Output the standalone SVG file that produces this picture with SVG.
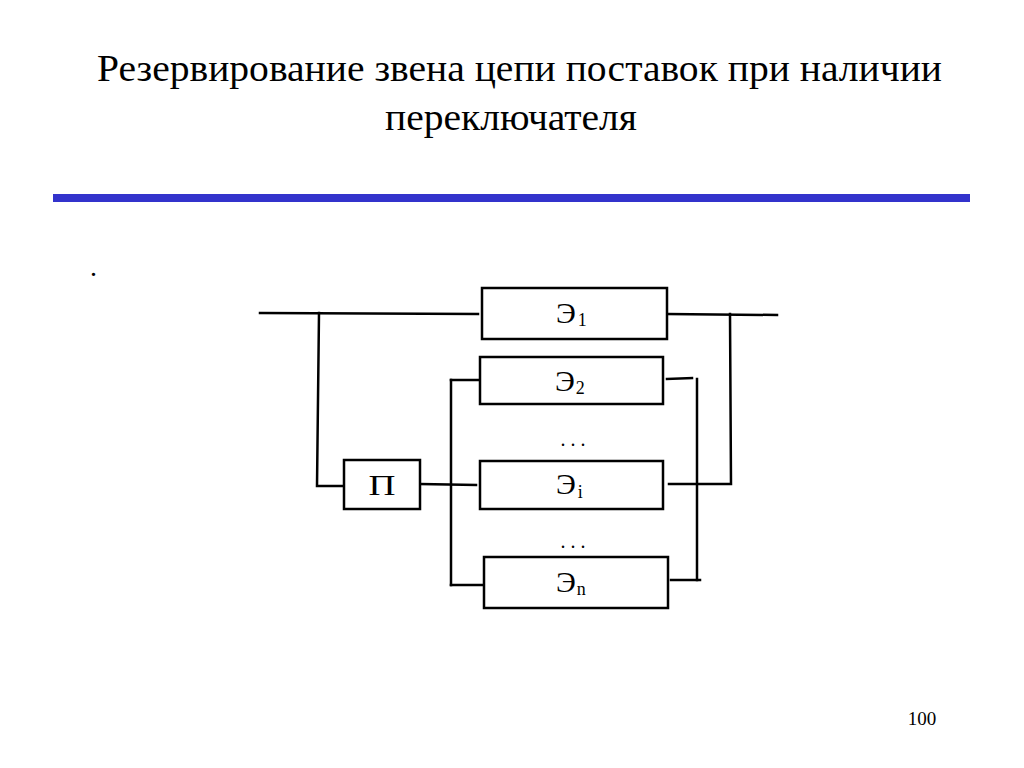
<svg xmlns="http://www.w3.org/2000/svg" width="1024" height="768" viewBox="0 0 1024 768">
<rect width="1024" height="768" fill="#fff"/>
<text x="97" y="81" font-size="38" font-family="Liberation Serif" textLength="845" lengthAdjust="spacingAndGlyphs">Резервирование звена цепи поставок при наличии</text>
<text x="385" y="130" font-size="38" font-family="Liberation Serif" textLength="252" lengthAdjust="spacingAndGlyphs">переключателя</text>
<text x="90" y="276" font-size="28" font-family="Liberation Serif">.</text>
<text x="922" y="725" font-size="19" font-family="Liberation Serif" text-anchor="middle">100</text>
<text x="573" y="446" font-size="20" font-family="Liberation Serif" text-anchor="middle">. . .</text>
<text x="573" y="548" font-size="20" font-family="Liberation Serif" text-anchor="middle">. . .</text>
<rect x="53" y="194" width="917" height="8" fill="#3333CC"/>
<g id="connectors" fill="none" stroke="#000" stroke-width="2.5" stroke-linecap="square">
<path d="M260 313 L478 314"/>
<path d="M319 313 L317 486 L345 486"/>
<path d="M420 484 L476 485"/>
<path d="M451 380 L451 585"/>
<path d="M451 380 L481 380"/>
<path d="M451 585 L483 585"/>
<path d="M667 314 L777 315"/>
<path d="M730 314 L731 484 L669 484"/>
<path d="M667 379 L692 378"/>
<path d="M697 379 L697 580"/>
<path d="M671 580 L700 580"/>
</g>
<g id="node-e1">
<rect x="482" y="288" width="185" height="51" fill="#fff" stroke="#000" stroke-width="2.5"/>
<text x="556" y="323" font-size="30" font-family="Liberation Serif">Э<tspan font-size="18" dx="2" dy="3">1</tspan></text>
</g>
<g id="node-e2">
<rect x="480" y="357" width="183" height="47" fill="#fff" stroke="#000" stroke-width="2.5"/>
<text x="555" y="391" font-size="30" font-family="Liberation Serif">Э<tspan font-size="18" dx="1" dy="3">2</tspan></text>
</g>
<g id="node-ei">
<rect x="480" y="461" width="183" height="48" fill="#fff" stroke="#000" stroke-width="2.5"/>
<text x="556" y="494" font-size="30" font-family="Liberation Serif">Э<tspan font-size="18" dx="2" dy="4">i</tspan></text>
</g>
<g id="node-en">
<rect x="484" y="557" width="184" height="51" fill="#fff" stroke="#000" stroke-width="2.5"/>
<text x="556" y="592" font-size="30" font-family="Liberation Serif">Э<tspan font-size="18" dx="1" dy="3">n</tspan></text>
</g>
<g id="node-p">
<rect x="344" y="460" width="76" height="49" fill="#fff" stroke="#000" stroke-width="2.5"/>
<text x="382" y="495" font-size="30" font-family="Liberation Serif" text-anchor="middle" textLength="27" lengthAdjust="spacingAndGlyphs">П</text>
</g>
</svg>
